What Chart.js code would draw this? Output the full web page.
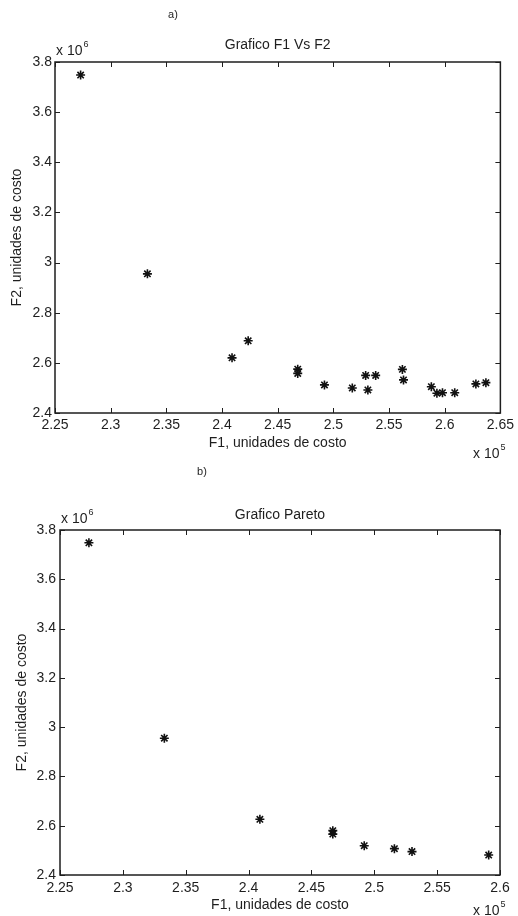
<!DOCTYPE html>
<html>
<head>
<meta charset="utf-8">
<script src="https://cdn.jsdelivr.net/npm/chart.js@4.4.0/dist/chart.umd.min.js"></script>
<style>
  html, body { margin: 0; padding: 0; background: #fff; }
  canvas { position: absolute; left: 0; }
  #chartA { top: 0; }
  #chartB { top: 460px; }
</style>
</head>
<body>
<canvas id="chartA" width="518" height="460"></canvas>
<canvas id="chartB" width="518" height="456"></canvas>
<script>
// a) all solutions, F1 in x 10^5, F2 in x 10^6
const f1All = [2.273, 2.333, 2.409, 2.4235, 2.468, 2.468, 2.492, 2.517, 2.529, 2.531,
               2.538, 2.562, 2.563, 2.588, 2.593, 2.598, 2.609, 2.628, 2.637];
const f2All = [3.748, 2.955, 2.62, 2.688, 2.575, 2.558, 2.512, 2.50, 2.55, 2.492,
               2.55, 2.574, 2.532, 2.505, 2.479, 2.481, 2.481, 2.516, 2.521];

// b) pareto front
const f1Pareto = [2.273, 2.333, 2.409, 2.467, 2.467, 2.492, 2.516, 2.53, 2.591];
const f2Pareto = [3.748, 2.955, 2.626, 2.58, 2.566, 2.519, 2.507, 2.495, 2.481];

const xTicksA = [2.25, 2.3, 2.35, 2.4, 2.45, 2.5, 2.55, 2.6, 2.65];
const xTicksB = [2.25, 2.3, 2.35, 2.4, 2.45, 2.5, 2.55, 2.6];
const yTicks = [2.4, 2.6, 2.8, 3, 3.2, 3.4, 3.6, 3.8];

const FONT = '"Liberation Sans", Arial, Helvetica, sans-serif';
const INK = '#1e1e1e';

Chart.defaults.font.family = FONT;
Chart.defaults.color = INK;
Chart.defaults.animation = false;

// matlab style box: frame, inward ticks on all four sides, and the small annotations
const matlabAxes = {
  id: 'matlabAxes',
  afterDraw(chart, args, o) {
    const { ctx, chartArea: a, scales: { x, y } } = chart;
    ctx.save();
    ctx.strokeStyle = INK;
    ctx.lineWidth = 1.5;
    ctx.strokeRect(a.left, a.top, a.right - a.left, a.bottom - a.top);
    ctx.beginPath();
    x.ticks.forEach(t => {
      const px = Math.round(x.getPixelForValue(t.value)) + 0.5;
      ctx.moveTo(px, a.bottom); ctx.lineTo(px, a.bottom - 5);
      ctx.moveTo(px, a.top); ctx.lineTo(px, a.top + 5);
    });
    y.ticks.forEach(t => {
      const py = Math.round(y.getPixelForValue(t.value)) + 0.5;
      ctx.moveTo(a.left, py); ctx.lineTo(a.left + 5, py);
      ctx.moveTo(a.right, py); ctx.lineTo(a.right - 5, py);
    });
    ctx.lineWidth = 1;
    ctx.stroke();

    ctx.fillStyle = INK;
    ctx.font = '11px ' + FONT;
    ctx.textAlign = 'center';
    ctx.textBaseline = 'middle';
    ctx.fillText(o.tag, o.tagAt[0], o.tagAt[1]);

    const expo = (base, sup, px, py) => {
      ctx.textAlign = 'left';
      ctx.textBaseline = 'alphabetic';
      ctx.font = '14px ' + FONT;
      ctx.fillText(base, px, py);
      const w = ctx.measureText(base).width;
      ctx.font = '9px ' + FONT;
      ctx.fillText(sup, px + w + 1, py - 8);
    };
    expo('x 10', '6', o.yExpAt[0], o.yExpAt[1]);
    expo('x 10', '5', o.xExpAt[0], o.xExpAt[1]);
    ctx.restore();
  }
};

function fmt(v) {
  return String(Number(v.toFixed(2)));
}

function makeChart(id, cfg) {
  const points = cfg.f1.map((v, i) => ({ x: v, y: cfg.f2[i] }));
  return new Chart(document.getElementById(id), {
    type: 'scatter',
    data: {
      datasets: [{
        data: points,
        pointStyle: 'star',
        pointRadius: 4.5,
        pointHoverRadius: 4.5,
        borderWidth: 1.6,
        borderColor: '#111',
        backgroundColor: '#111'
      }]
    },
    options: {
      responsive: false,
      layout: { padding: { left: 0, top: 0, bottom: 0, right: cfg.padRight } },
      plugins: {
        legend: { display: false },
        tooltip: { enabled: false },
        title: {
          display: true,
          text: cfg.title,
          fullSize: false,
          color: INK,
          font: { size: 14, weight: 'normal' },
          padding: { top: cfg.titlePad[0], bottom: cfg.titlePad[1] }
        },
        matlabAxes: cfg.notes
      },
      scales: {
        x: {
          type: 'linear',
          min: cfg.xTicks[0],
          max: cfg.xTicks[cfg.xTicks.length - 1],
          grid: { display: false, drawTicks: false },
          border: { display: false },
          afterBuildTicks: s => { s.ticks = cfg.xTicks.map(v => ({ value: v })); },
          afterFit: s => { s.height = cfg.xAxisH; },
          ticks: {
            autoSkip: false, maxRotation: 0, padding: cfg.xTickPad,
            color: INK, font: { size: 14 }, callback: fmt
          },
          title: {
            display: true, text: 'F1, unidades de costo', color: INK,
            font: { size: 14 }, padding: { top: 0, bottom: cfg.xTitlePad }
          }
        },
        y: {
          type: 'linear',
          min: yTicks[0],
          max: yTicks[yTicks.length - 1],
          grid: { display: false, drawTicks: false },
          border: { display: false },
          afterBuildTicks: s => { s.ticks = yTicks.map(v => ({ value: v })); },
          afterFit: s => { s.width = cfg.yAxisW; },
          ticks: {
            autoSkip: false, padding: cfg.yTickPad,
            color: INK, font: { size: 14 }, callback: fmt
          },
          title: {
            display: true, text: 'F2, unidades de costo', color: INK,
            font: { size: 14 }, padding: { top: cfg.yTitlePad, bottom: 0 }
          }
        }
      }
    },
    plugins: [matlabAxes]
  });
}

makeChart('chartA', {
  f1: f1All, f2: f2All, xTicks: xTicksA,
  title: 'Grafico F1 Vs F2',
  titlePad: [36.6, 8.6],
  padRight: 14, yAxisW: 55, xAxisH: 47,
  xTickPad: 4, yTickPad: 3, xTitlePad: 8.6, yTitlePad: 8.6,
  notes: { tag: 'a)', tagAt: [173, 15], yExpAt: [56, 55], xExpAt: [473, 458] }
});

makeChart('chartB', {
  f1: f1Pareto, f2: f2Pareto, xTicks: xTicksB,
  title: 'Grafico Pareto',
  titlePad: [46.6, 6.6],
  padRight: 18, yAxisW: 60, xAxisH: 41,
  xTickPad: 5, yTickPad: 4, xTitlePad: 2.6, yTitlePad: 13.6,
  notes: { tag: 'b)', tagAt: [202, 12], yExpAt: [61, 63], xExpAt: [473, 455] }
});
</script>
</body>
</html>
